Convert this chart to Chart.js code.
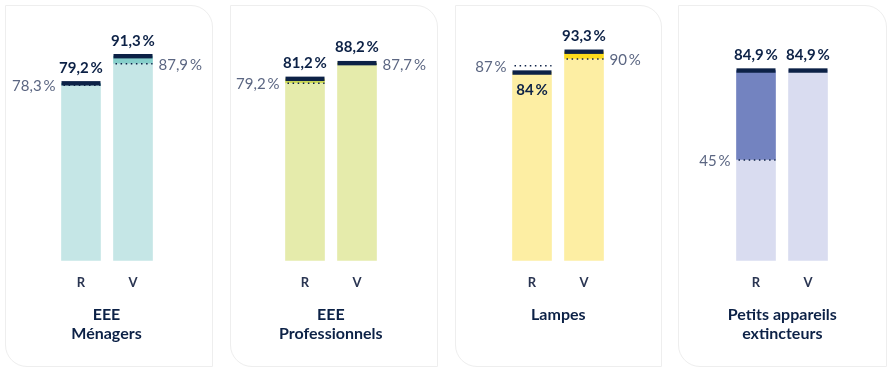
<!DOCTYPE html>
<html>
<head>
<meta charset="utf-8">
<script src="https://cdn.jsdelivr.net/npm/chart.js@4.4.0/dist/chart.umd.min.js"></script>
<style>
  body { margin: 0; background: #fff; font-family: Lato, "Noto Sans", sans-serif; }
  #wrap { position: relative; width: 895px; height: 376px; overflow: hidden; }
  .card { position: absolute; top: 5px; height: 362px; border: 1px solid #eeeeee;
          border-radius: 0 22px 0 22px; box-sizing: border-box; }
  .panel { position: absolute; top: 0; width: 208px; height: 314px; }
  .title { position: absolute; top: 304px; width: 208px; text-align: center;
           font: bold 16px Lato, sans-serif; line-height: 19px; color: #0c2146; }
</style>
</head>
<body>
<div id="wrap"></div>
<script>
// data
const categories = ['R', 'V'];
const panelTitles = [['EEE', 'Ménagers'], ['EEE', 'Professionnels'], ['Lampes'], ['Petits appareils', 'extincteurs']];
const actualR = [79.2, 81.2, 84, 84.9];
const actualV = [91.3, 88.2, 93.3, 84.9];
const targetR = [78.3, 79.2, 87, 45];
const targetV = [87.9, 87.7, 90, null];

// look
const lightColors = ['#c5e6e6', '#e5ebab', '#fdeea3', '#d9dcf0'];
const midColors = ['#86cfcb', '#cfdb55', '#fcdc1c', '#7383c0'];
const navy = '#0c2146';
const cards = [[5, 208], [230, 208], [455, 207], [678, 209]];
const barMid = [106.5, 330.8, 558.3, 782.3];

const fmt = v => String(v).replace('.', ',') + '\u2009%';

const wrap = document.getElementById('wrap');

const markers = {
  id: 'markers',
  afterDatasetsDraw(chart, args, opts) {
    const ctx = chart.ctx;
    const y = chart.scales.y;
    const meta = chart.getDatasetMeta(0);
    meta.data.forEach((bar, i) => {
      const a = opts.actual[i], t = opts.target[i];
      const w = bar.width, x0 = bar.x - w / 2;
      const ya = y.getPixelForValue(a);
      ctx.save();
      // dotted target line
      if (t !== null) {
        const yt = y.getPixelForValue(t);
        ctx.strokeStyle = navy;
        ctx.lineWidth = 1.5;
        ctx.setLineDash([1.5, 3.6]);
        ctx.beginPath();
        ctx.moveTo(x0 + 2, yt);
        ctx.lineTo(x0 + w, yt);
        ctx.stroke();
        ctx.setLineDash([]);
        ctx.fillStyle = '#5b6682';
        ctx.font = '15px Lato, sans-serif';
        ctx.textBaseline = 'middle';
        if (i === 0) {
          ctx.textAlign = 'right';
          ctx.fillText(fmt(t), x0 - 6, yt + 1);
        } else {
          ctx.textAlign = 'left';
          ctx.fillText(fmt(t), x0 + w + 6, yt + 1);
        }
      }
      // cap
      ctx.fillStyle = navy;
      ctx.fillRect(x0, ya - 2.2, w, 4.4);
      // value label
      ctx.font = 'bold 15px Lato, sans-serif';
      ctx.textAlign = 'center';
      ctx.textBaseline = 'middle';
      const below = t !== null && a < t;
      ctx.fillText(fmt(a), bar.x, below ? ya + 18 : ya - 15.5);
      ctx.restore();
    });
  }
};

panelTitles.forEach((title, p) => {
  const card = document.createElement('div');
  card.className = 'card';
  card.style.left = cards[p][0] + 'px';
  card.style.width = cards[p][1] + 'px';
  wrap.appendChild(card);

  const box = document.createElement('div');
  box.className = 'panel';
  box.style.left = (barMid[p] - 104) + 'px';
  const cv = document.createElement('canvas');
  box.appendChild(cv);
  wrap.appendChild(box);

  const t = document.createElement('div');
  t.className = 'title';
  t.style.left = (barMid[p] - 104) + 'px';
  t.innerHTML = title.join('<br>');
  wrap.appendChild(t);

  const actual = [actualR[p], actualV[p]];
  const target = [targetR[p], targetV[p]];
  const base = actual.map((a, i) => target[i] === null ? a : Math.min(a, target[i]));
  const extra = actual.map((a, i) => target[i] === null ? 0 : Math.max(a - target[i], 0));

  new Chart(cv, {
    type: 'bar',
    data: {
      labels: categories,
      datasets: [
        { data: base, backgroundColor: lightColors[p], barThickness: 39 },
        { data: extra, backgroundColor: midColors[p], barThickness: 39 }
      ]
    },
    options: {
      responsive: true,
      maintainAspectRatio: false,
      animation: false,
      layout: { padding: { left: 52, right: 52, top: 36.7, bottom: 9.6 } },
      plugins: {
        legend: { display: false },
        tooltip: { enabled: false },
        markers: { actual: actual, target: target }
      },
      scales: {
        x: {
          stacked: true,
          grid: { display: false, drawTicks: false },
          border: { display: false },
          ticks: { color: '#2a3552', padding: 14, font: { family: 'Lato', size: 13, weight: 'bold' } }
        },
        y: { stacked: true, display: false, min: 0, max: 100 }
      }
    },
    plugins: [markers]
  });
});
</script>
</body>
</html>
